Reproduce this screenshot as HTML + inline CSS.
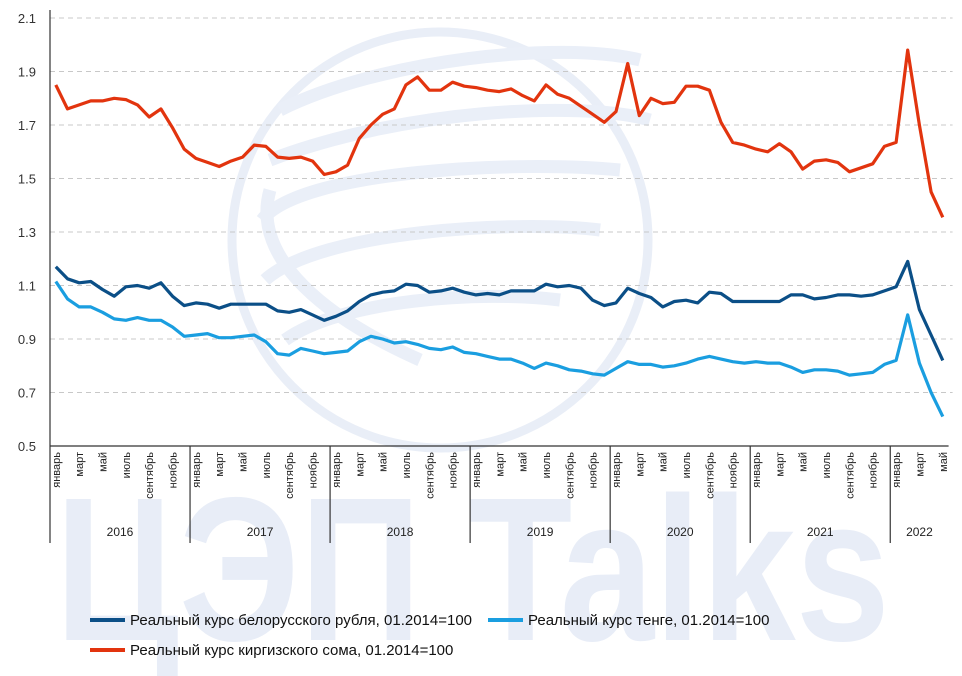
<!DOCTYPE html>
<html><head><meta charset="utf-8">
<style>
html,body{margin:0;padding:0;background:#fff;}
svg{display:block;font-family:"Liberation Sans","DejaVu Sans",sans-serif;}
</style></head>
<body>
<svg id="chart" width="962" height="676" viewBox="0 0 962 676">
  <g id="watermark">
    <circle cx="440" cy="240" r="208" fill="none" stroke="#e9eef7" stroke-width="9"/>
    <g fill="none" stroke="#eaeff8" stroke-width="13">
      <path d="M280,110 C380,60 560,40 640,60"/>
      <path d="M270,160 C400,110 580,100 650,120"/>
      <path d="M262,220 C300,170 520,160 620,170"/>
      <path d="M265,280 C320,230 520,220 600,230"/>
      <path d="M285,340 C340,300 480,290 560,300"/>
      <path d="M270,190 C250,260 330,320 420,360"/>
    </g>
    <text x="55" y="640" font-size="205" font-weight="bold" fill="#e8edf7" textLength="835" lengthAdjust="spacingAndGlyphs">ЦЭП Talks</text>
  </g>
  <g id="grid"></g>
  <g id="axes"></g>
  <g id="series"></g>
  <g id="legend" font-size="15" fill="#111">
    <line x1="90" y1="620" x2="125" y2="620" stroke="#0b4f87" stroke-width="4"/>
    <text x="130" y="625">Реальный курс белорусского рубля, 01.2014=100</text>
    <line x1="488" y1="620" x2="523" y2="620" stroke="#1a9ee0" stroke-width="4"/>
    <text x="528" y="625">Реальный курс тенге, 01.2014=100</text>
    <line x1="90" y1="650" x2="125" y2="650" stroke="#e2340e" stroke-width="4"/>
    <text x="130" y="655">Реальный курс киргизского сома, 01.2014=100</text>
  </g>
</svg>
<script>
const years = ["2016","2017","2018","2019","2020","2021","2022"];
const monthLabels = ["январь","","март","","май","","июль","","сентябрь","","ноябрь",""];
const yTicks = [0.5,0.7,0.9,1.1,1.3,1.5,1.7,1.9,2.1];
const kgs = [1.85,1.76,1.775,1.79,1.79,1.80,1.795,1.775,1.73,1.76,1.69,1.61,
1.575,1.56,1.545,1.565,1.58,1.625,1.62,1.58,1.575,1.58,1.565,1.515,
1.525,1.55,1.65,1.70,1.74,1.76,1.85,1.88,1.83,1.83,1.86,1.845,
1.84,1.83,1.825,1.835,1.81,1.79,1.85,1.815,1.80,1.77,1.74,1.71,
1.75,1.93,1.735,1.80,1.78,1.785,1.845,1.845,1.83,1.71,1.635,1.625,
1.61,1.60,1.63,1.60,1.535,1.565,1.57,1.56,1.525,1.54,1.555,1.62,
1.635,1.98,1.70,1.45,1.355];
const byn = [1.17,1.125,1.11,1.115,1.085,1.06,1.095,1.10,1.09,1.11,1.06,1.025,
1.035,1.03,1.015,1.03,1.03,1.03,1.03,1.005,1.00,1.01,0.99,0.97,
0.985,1.005,1.04,1.065,1.075,1.08,1.105,1.10,1.075,1.08,1.09,1.075,
1.065,1.07,1.065,1.08,1.08,1.08,1.105,1.095,1.10,1.09,1.045,1.025,
1.035,1.09,1.07,1.055,1.02,1.04,1.045,1.035,1.075,1.07,1.04,1.04,
1.04,1.04,1.04,1.065,1.065,1.05,1.055,1.065,1.065,1.06,1.065,1.08,
1.095,1.19,1.01,0.915,0.82];
const kzt = [1.115,1.05,1.02,1.02,1.0,0.975,0.97,0.98,0.97,0.97,0.945,0.91,
0.915,0.92,0.905,0.905,0.91,0.915,0.89,0.845,0.84,0.865,0.855,0.845,
0.85,0.855,0.89,0.91,0.90,0.885,0.89,0.88,0.865,0.86,0.87,0.85,
0.845,0.835,0.825,0.825,0.81,0.79,0.81,0.80,0.785,0.78,0.77,0.765,
0.79,0.815,0.805,0.805,0.795,0.80,0.81,0.825,0.835,0.825,0.815,0.81,
0.815,0.81,0.81,0.795,0.775,0.785,0.785,0.78,0.765,0.77,0.775,0.805,
0.82,0.99,0.81,0.70,0.61];

const NS="http://www.w3.org/2000/svg";
const X0=50, STEP=11.67, Y0=446, YTOP=18, VMIN=0.5, VMAX=2.1;
function xPos(i){return X0+(i+0.5)*STEP;}
function yPos(v){return Y0-(v-VMIN)/(VMAX-VMIN)*(Y0-YTOP);}
function mk(tag,attrs,parent){const e=document.createElementNS(NS,tag);for(const k in attrs)e.setAttribute(k,attrs[k]);parent.appendChild(e);return e;}
const grid=document.getElementById('grid'), axes=document.getElementById('axes'), series=document.getElementById('series');
const nMonths=kgs.length;
const xEnd=X0+nMonths*STEP;

yTicks.forEach(v=>{
  if(v>VMIN){
    const g=mk('line',{x1:X0,x2:xEnd+4,y1:yPos(v),y2:yPos(v),stroke:'#c8c8c8','stroke-width':1,'stroke-dasharray':'5,4'},grid);
    
    
  }
  const t=mk('text',{x:36,y:yPos(v)+5,'text-anchor':'end','font-size':13,fill:'#333'},axes);
  t.textContent=v.toFixed(1);
  
  
});

const yAxis=mk('line',{x1:X0,x2:X0,y1:10,y2:543,stroke:'#333','stroke-width':1.2},axes);


const xAxis=mk('line',{x1:X0,x2:xEnd,y1:Y0,y2:Y0,stroke:'#333','stroke-width':1.2},axes);



for(let i=0;i<nMonths;i++){
  const lbl=monthLabels[i%12];
  if(lbl){
    const t=mk('text',{x:0,y:0,'text-anchor':'end','font-size':11,fill:'#222',transform:`translate(${xPos(i)+4},452) rotate(-90)`},axes);
    t.textContent=lbl;
    
    
  }
}
years.forEach((y,k)=>{
  const s=k*12, e=Math.min((k+1)*12,nMonths);
  if(k>0){
    const l=mk('line',{x1:X0+s*STEP,x2:X0+s*STEP,y1:Y0,y2:543,stroke:'#333','stroke-width':1.2},axes);
    
    
  }
  const t=mk('text',{x:X0+(s+e)/2*STEP,y:536,'text-anchor':'middle','font-size':12,fill:'#222'},axes);
  t.textContent=y;
  
  
});

function drawLine(data,color,name){
  const d=data.map((v,i)=>(i?'L':'M')+xPos(i).toFixed(1)+','+yPos(v).toFixed(1)).join(' ');
  const p=mk('path',{d:d,fill:'none',stroke:color,'stroke-width':3.2,'stroke-linejoin':'round'},series);
  
  
}
drawLine(kzt,'#1a9ee0','line-kzt');
drawLine(byn,'#0b4f87','line-byn');
drawLine(kgs,'#e2340e','line-kgs');
</script>
</body></html>
